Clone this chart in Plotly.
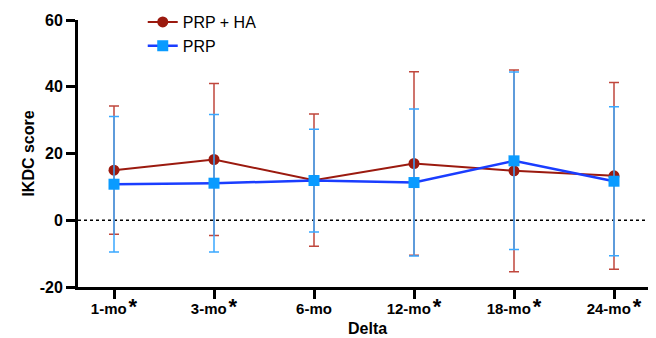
import plotly.graph_objects as go

categories = ["1-mo", "3-mo", "6-mo", "12-mo", "18-mo", "24-mo"]
significant = [True, True, False, True, True, True]
prp_ha_mean = [15.0, 18.2, 12.0, 17.0, 14.8, 13.3]
prp_ha_sd = [19.2, 22.8, 19.8, 27.5, 30.2, 28.0]
prp_mean = [10.8, 11.1, 11.9, 11.3, 17.8, 11.7]
prp_sd = [20.3, 20.6, 15.4, 22.0, 26.6, 22.3]
y_ticks = [-20, 0, 20, 40, 60]
y_ticktext = ["-20", "0", "20", "40", "60"]

xpos = list(range(len(categories)))
star = "<span style='font-size:7px'> </span><span style='font-size:22px'>*</span>"
ticktext = [c + (star if s else "") for c, s in zip(categories, significant)]

font_family = "Arial, Liberation Sans, sans-serif"

# the page body has an 8px default margin; compensate so the plot sits like the reference
fig = go.Figure()
fig.add_trace(go.Scatter(
    x=xpos, y=prp_ha_mean, name="PRP + HA", mode="lines+markers",
    line=dict(color="#9B1A0F", width=2),
    marker=dict(symbol="circle", size=11, color="#9B1A0F"),
    error_y=dict(type="data", array=prp_ha_sd, visible=True, color="#C0473D", thickness=1.5, width=5),
))
fig.add_trace(go.Scatter(
    x=xpos, y=prp_mean, name="PRP", mode="lines+markers",
    line=dict(color="#1A3DFF", width=2.5),
    marker=dict(symbol="square", size=11, color="#0A9BFF"),
    error_y=dict(type="data", array=prp_sd, visible=True, color="#3AA8FF", thickness=1.5, width=5),
))

fig.add_shape(type="line", xref="paper", yref="y", x0=0, x1=1, y0=0, y1=0,
              line=dict(color="black", width=1.5, dash="dot"), layer="below")

fig.add_annotation(text="Delta", xref="paper", yref="paper", x=0.5, y=-0.155,
                   xanchor="center", yanchor="middle", showarrow=False,
                   font=dict(size=16, weight="bold", family=font_family))

fig.update_layout(
    width=648, height=330,
    margin=dict(l=70, r=0, t=12, b=51, autoexpand=False),
    plot_bgcolor="white", paper_bgcolor="white",
    font=dict(family=font_family, color="black"),
    showlegend=True,
    legend=dict(x=0.112, y=1.056, xanchor="left", yanchor="top",
                font=dict(size=16, family=font_family), bgcolor="rgba(0,0,0,0)",
                itemwidth=30),
    xaxis=dict(
        range=[-0.36, 5.42], tickmode="array", tickvals=xpos, ticktext=ticktext,
        showline=True, linecolor="black", linewidth=3, ticks="outside", ticklen=9,
        tickwidth=3, tickcolor="black", showgrid=False, zeroline=False,
        tickfont=dict(size=15, weight="bold", family=font_family), ticklabelstandoff=-3,
    ),
    yaxis=dict(
        range=[-20, 60], tickmode="array", tickvals=y_ticks, ticktext=y_ticktext,
        showline=True, linecolor="black", linewidth=3, ticks="outside", ticklen=9,
        tickwidth=3, tickcolor="black", showgrid=False, zeroline=False,
        tickfont=dict(size=16, weight="bold", family=font_family),
        title=dict(text="IKDC score", font=dict(size=16, weight="bold", family=font_family), standoff=2),
    ),
)

fig.write_html("out.html")
